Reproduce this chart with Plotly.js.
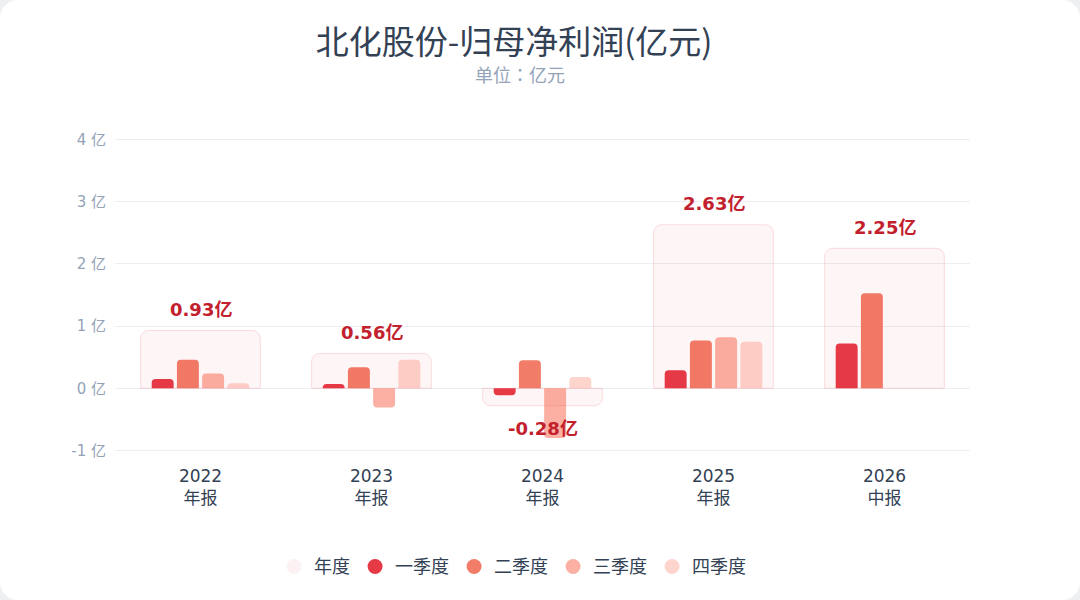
<!DOCTYPE html>
<html>
<head>
<meta charset="utf-8">
<script src="https://cdn.plot.ly/plotly-3.0.1.min.js"></script>
<style>
  html, body { margin: 0; padding: 0; background: #eef0f4; }
  #card { width: 1080px; height: 600px; background: #fff; border-radius: 18px; overflow: hidden; }
</style>
</head>
<body>
<div id="card"></div>
<script>
// 报告期
const years = ["2022", "2023", "2024", "2025", "2026"];
const reportTypes = ["年报", "年报", "年报", "年报", "中报"];
// 年度归母净利润 (亿元)
const annual = [0.93, 0.56, -0.28, 2.63, 2.25];
// 单季度 (亿元)
const q1 = [0.15, 0.07, -0.11, 0.29, 0.72];
const q2 = [0.46, 0.34, 0.45, 0.77, 1.53];
const q3 = [0.24, -0.31, -0.80, 0.82, null];
const q4 = [0.08, 0.46, 0.18, 0.75, null];
// y 轴刻度
const yTicks = [-1, 0, 1, 2, 3, 4];
const yTickText = ["-1 亿", "0 亿", "1 亿", "2 亿", "3 亿", "4 亿"];

const quarterNames = ["一季度", "二季度", "三季度", "四季度"];
const quarterColors = ["#e63946", "#f17c67", "#fcb0a3", "#fed5cc"];
const fontFam = "DejaVu Sans, Noto Sans CJK SC, sans-serif";
const cjkFam = "Noto Sans CJK SC, sans-serif";

function quarterTrace(vals, i) {
    return {
        type: "bar",
        x: years,
        y: vals,
        name: quarterNames[i],
        marker: { color: quarterColors[i], cornerradius: 4 },
        showlegend: false,
        hoverinfo: "skip"
    };
}

let data = [q1, q2, q3, q4].map(quarterTrace);

// 年度背景框, 画在单季柱子上面
data.push({
    type: "bar",
    x: years,
    y: annual,
    xaxis: "x2",
    width: 0.7,
    name: "年度",
    marker: {
        color: "rgba(230,57,70,0.05)",
        line: { color: "rgba(230,57,70,0.16)", width: 1 },
        cornerradius: 8
    },
    showlegend: false,
    hoverinfo: "skip"
});

// 图例用圆点
const legendNames = ["年度"].concat(quarterNames);
const legendColors = ["#fcf2f3"].concat(quarterColors);
legendNames.forEach((n, i) => {
    data.push({
        type: "scatter",
        mode: "markers",
        x: [null],
        y: [null],
        name: n,
        marker: { color: legendColors[i], size: 15, symbol: "circle" },
        hoverinfo: "skip"
    });
});

// 年度数值标签 (类别轴上 x 用类别序号)
let annotations = annual.map((v, i) => ({
    x: i,
    y: v,
    xref: "x",
    yref: "y",
    text: "<b>" + v.toFixed(2) + "亿</b>",
    showarrow: false,
    yanchor: "middle",
    yshift: v >= 0 ? 21 : -23,
    font: { size: 18, color: "#c3202e", family: fontFam }
}));

annotations.push({
    text: "单位：亿元",
    xref: "paper", yref: "paper",
    x: 0.474, y: 1.2,
    xanchor: "center", yanchor: "middle",
    showarrow: false,
    font: { size: 18, color: "#94a3b8", family: "Noto Sans CJK TC, sans-serif" }
});

const layout = {
    width: 1080,
    height: 600,
    paper_bgcolor: "rgba(0,0,0,0)",
    plot_bgcolor: "rgba(0,0,0,0)",
    margin: { l: 115, r: 110, t: 137, b: 147 },
    font: { family: fontFam, color: "#334155" },
    title: {
        text: "北化股份-归母净利润(亿元)",
        font: { size: 33, color: "#334155", family: cjkFam },
        x: 0.476,
        xanchor: "center",
        y: 0.93,
        yref: "container",
        yanchor: "middle"
    },
    annotations: annotations,
    barmode: "group",
    bargap: 0.41,
    bargroupgap: 0.13,
    xaxis: {
        type: "category",
        tickvals: years,
        ticktext: years.map((y, i) => y + "<br>" + reportTypes[i]),
        showgrid: false,
        zeroline: false,
        showline: false,
        ticks: "",
        ticklabelstandoff: 11,
        tickfont: { size: 17, color: "#334155" },
        fixedrange: true
    },
    xaxis2: {
        type: "category",
        overlaying: "x",
        matches: "x",
        visible: false
    },
    yaxis: {
        range: [-1.04, 4.04],
        tickvals: yTicks,
        ticktext: yTickText,
        tickfont: { size: 15, color: "#94a3b8" },
        ticklabelstandoff: 8,
        gridcolor: "#eceef2",
        zeroline: true,
        zerolinecolor: "#eceef2",
        zerolinewidth: 1,
        showline: false,
        ticks: "",
        fixedrange: true
    },
    legend: {
        orientation: "h",
        x: 0.465,
        xanchor: "center",
        y: -0.36,
        yanchor: "middle",
        font: { size: 18, color: "#334155", family: cjkFam },
        itemclick: false,
        itemdoubleclick: false
    },
    hovermode: false
};

Plotly.newPlot("card", data, layout, { displayModeBar: false, staticPlot: true });
</script>
</body>
</html>
